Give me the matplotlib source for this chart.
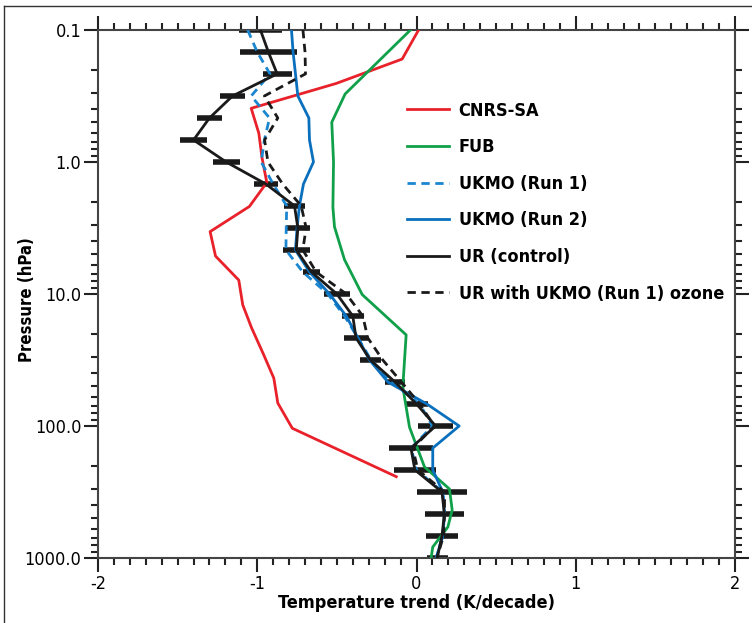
import matplotlib
matplotlib.use('Agg')
import matplotlib.pyplot as plt
from matplotlib.lines import Line2D
from matplotlib.ticker import FixedLocator, LogLocator, NullFormatter, MultipleLocator

plt.rcParams['font.family'] = ['DejaVu Sans']
plt.rcParams['font.stretch'] = 'condensed'

# model levels (hPa) shared by UR and UKMO runs
levels = [0.1, 0.147, 0.215, 0.316, 0.464, 0.681, 1.0, 1.47, 2.15, 3.16,
          4.64, 6.81, 10.0, 14.7, 21.5, 31.6, 46.4, 68.1, 100.0, 147.0,
          215.0, 316.0, 464.0, 681.0, 1000.0]

ur_control = [-0.98, -0.93, -0.875, -1.155, -1.30, -1.40, -1.195, -0.945, -0.766, -0.745,
              -0.755, -0.66, -0.50, -0.40, -0.38, -0.29, -0.135, 0.0, 0.12, -0.035,
              -0.01, 0.16, 0.175, 0.16, 0.13]
ur_err = [0.133, 0.18, 0.092, 0.08, 0.078, 0.084, 0.085, 0.075, 0.065, 0.075,
          0.085, 0.054, 0.082, 0.07, 0.073, 0.067, 0.06, 0.072, 0.108, 0.138,
          0.134, 0.158, 0.123, 0.1, 0.065]

ukmo_run1 = [-1.06, -1.0, -0.92, -1.038, -0.923, -0.955, -0.975, -0.90, -0.815, -0.818,
             -0.82, -0.714, -0.557, -0.452, -0.368, -0.285, -0.16, 0.02, 0.10, -0.033,
             0.0, 0.165, 0.176, 0.165, 0.124]
ukmo_run2 = [-0.785, -0.775, -0.76, -0.745, -0.676, -0.672, -0.647, -0.71, -0.735, -0.75,
             -0.76, -0.672, -0.546, -0.441, -0.368, -0.295, -0.18, 0.065, 0.268, 0.102,
             0.102, 0.165, 0.176, 0.165, 0.124]
ur_ukmo_ozone = [-0.713, -0.70, -0.697, -0.955, -0.871, -0.954, -0.933, -0.84, -0.724, -0.693,
                 -0.714, -0.63, -0.441, -0.337, -0.306, -0.212, -0.095, 0.02, 0.113, -0.023,
                 0.008, 0.176, 0.176, 0.17, 0.128]

cnrs_p = [0.1, 0.166, 0.254, 0.392, 0.606, 0.93, 1.43, 2.17, 3.37, 5.16,
          7.85, 12.1, 18.0, 28.6, 43.4, 67.0, 104.0, 242.0]
cnrs_sa = [0.013, -0.09, -0.504, -1.038, -0.99, -0.97, -0.94, -1.049, -1.296, -1.262,
           -1.116, -1.091, -1.036, -0.961, -0.896, -0.871, -0.78, -0.127]

fub_p = [0.1, 0.305, 0.5, 1.0, 2.2, 3.1, 5.5, 10.1, 20.4, 50.7,
         102.0, 204.0, 300.0, 433.0, 582.0, 826.0, 1000.0]
fub = [-0.038, -0.448, -0.532, -0.521, -0.525, -0.515, -0.452, -0.341, -0.065, -0.086,
       -0.044, 0.05, 0.207, 0.224, 0.197, 0.102, 0.092]

fig = plt.figure(figsize=(7.52, 6.23), dpi=100)
ax = fig.add_axes([98 / 752, 1 - 558 / 623, 637 / 752, 528 / 623])

red = '#e8212a'
green = '#10a04a'
blue = '#0a6fbd'
lblue = '#1a86d0'
black = '#1a1a1a'

ax.errorbar(ur_control, levels, xerr=ur_err, fmt='none', ecolor=black,
            elinewidth=4, capsize=0, zorder=2)
ax.plot(cnrs_sa, cnrs_p, color=red, lw=2, label='CNRS-SA', zorder=3)
ax.plot(fub, fub_p, color=green, lw=2, label='FUB', zorder=3)
ax.plot(ukmo_run1, levels, color=lblue, lw=2, ls=(0, (3, 2)), label='UKMO (Run 1)', zorder=3)
ax.plot(ukmo_run2, levels, color=blue, lw=2, label='UKMO (Run 2)', zorder=3)
ax.plot(ur_control, levels, color=black, lw=2, label='UR (control)', zorder=4)
ax.plot(ur_ukmo_ozone, levels, color=black, lw=2, ls=(0, (3, 2)),
        label='UR with UKMO (Run 1) ozone', zorder=4)

ax.set_yscale('log')
ax.set_ylim(1000, 0.1)
ax.set_xlim(-2, 2)

ax.yaxis.set_major_locator(FixedLocator([0.1, 1, 10, 100, 1000]))
ax.set_yticklabels(['0.1', '1.0', '10.0', '100.0', '1000.0'])
ax.yaxis.set_minor_locator(LogLocator(base=10, subs=range(2, 10)))
ax.yaxis.set_minor_formatter(NullFormatter())
ax.xaxis.set_major_locator(FixedLocator([-2, -1, 0, 1, 2]))
ax.set_xticklabels(['-2', '-1', '0', '1', '2'])
ax.xaxis.set_minor_locator(MultipleLocator(0.1))

ax.tick_params(which='both', direction='out', top=True, right=True,
               labeltop=False, labelright=False, color='#222222', width=1.5)
ax.tick_params(which='major', length=10, labelsize=13, pad=2)
ax.tick_params(which='minor', length=5)

for s in ax.spines.values():
    s.set_color('#444444')
    s.set_linewidth(1.5)

ax.set_xlabel('Temperature trend (K/decade)', fontsize=13, fontweight='bold', labelpad=1)
ax.set_ylabel('Pressure (hPa)', fontsize=12, fontweight='bold')
ax.yaxis.set_label_coords(-0.097, 0.49)

leg = ax.legend(loc='upper left', bbox_to_anchor=(0.46, 0.895), frameon=False,
                handlelength=2.3, handletextpad=0.55, labelspacing=1.03,
                prop={'size': 13, 'weight': 'bold'})

# thin outer frame (left and top edges visible)
fig.add_artist(Line2D([4 / 752, 4 / 752], [0, 1 - 6 / 623], color='#333333', lw=1))
fig.add_artist(Line2D([4 / 752, 1], [1 - 6 / 623, 1 - 6 / 623], color='#333333', lw=1))

fig.savefig('out.png', dpi=100)
